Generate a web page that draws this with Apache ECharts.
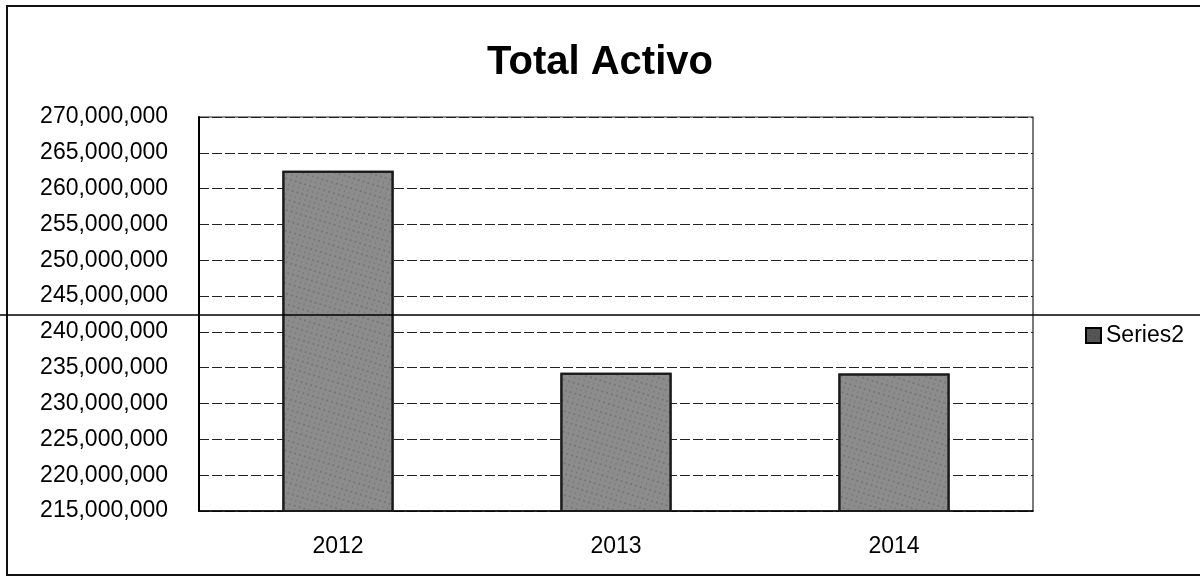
<!DOCTYPE html>
<html><head><meta charset="utf-8">
<script src="https://cdn.jsdelivr.net/npm/echarts@6/dist/echarts.min.js"></script>
<style>html,body{margin:0;padding:0;background:#fff}#c{width:1200px;height:577px}</style>
</head><body><div id="c"></div>
<script>
const categories = ['2012', '2013', '2014'];
const seriesName = 'Series2';
const values = [262500000, 234300000, 234200000];
const yMin = 215000000, yMax = 270000000, yStep = 5000000;
const titleText = 'Total Activo';

const chart = echarts.init(document.getElementById('c'));
const font = 'Liberation Sans';
chart.setOption({
  backgroundColor: '#fff',
  animation: false,
  title: { text: titleText, left: 'center', top: 38,
    textStyle: { fontFamily: font, fontSize: 40, fontWeight: 'bold', color: '#000' } },
  legend: { left: 1080, top: 319, itemWidth: 15, itemHeight: 15, itemGap: 6,
    textStyle: { fontFamily: font, fontSize: 23, color: '#000' },
    data: [{ name: seriesName, icon: 'rect', itemStyle: { color: '#555', borderColor: '#000', borderWidth: 2 } }] },
  grid: { left: 199, right: 167, top: 117, bottom: 66, show: true, borderColor: '#222', borderWidth: 1.2 },
  graphic: [
    { type: 'rect', shape: { x: 7, y: 6, width: 1200, height: 569 }, style: { fill: 'none', stroke: '#111', lineWidth: 2 }, silent: true },
    { type: 'line', shape: { x1: 0, y1: 315, x2: 1200, y2: 315 }, style: { stroke: '#000', lineWidth: 1.5 }, silent: true, z: 10 }
  ],
  xAxis: { type: 'category', data: categories,
    axisLine: { lineStyle: { color: '#000', width: 1.5 } },
    axisTick: { show: false },
    axisLabel: { fontFamily: font, fontSize: 23, color: '#000', margin: 24 } },
  yAxis: { type: 'value', min: yMin, max: yMax, interval: yStep,
    axisLine: { show: true, lineStyle: { color: '#000', width: 2 } },
    axisTick: { show: false },
    axisLabel: { fontFamily: font, fontSize: 23, color: '#000', margin: 31,
      formatter: v => v.toLocaleString('en-US') },
    splitLine: { lineStyle: { color: '#222', width: 1.2, type: [10, 3] } } },
  series: [{ name: seriesName, type: 'bar', data: values, barWidth: '40%',
    itemStyle: { color: '#8c8c8c', borderColor: '#1a1a1a', borderWidth: 2,
      decal: { symbol: 'rect', symbolSize: 0.6, color: 'rgba(20,20,20,0.55)', dashArrayX: [[2, 3], [1, 4]], dashArrayY: [2, 3], rotation: 0.3 } } }]
});
</script></body></html>
